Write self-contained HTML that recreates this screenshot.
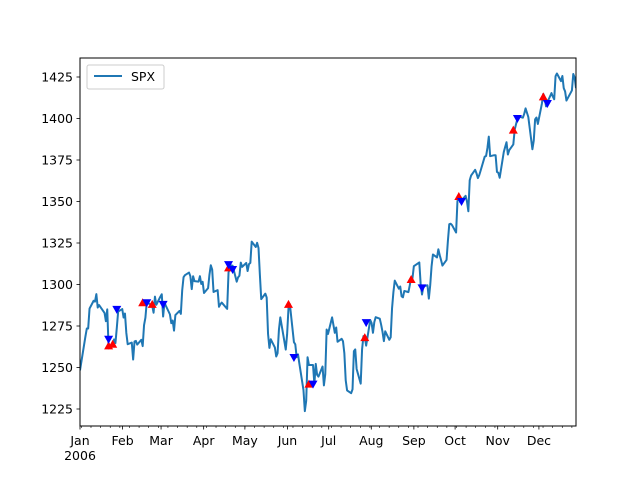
<!DOCTYPE html>
<html><head><meta charset="utf-8"><style>
body{margin:0;background:#fff;}
svg{display:block;font-family:"DejaVu Sans","Liberation Sans",sans-serif;}
</style></head><body>
<svg id="chart" width="640" height="480"></svg>
<script>
const seriesName = "SPX";
const startDate = "2005-12-30";
const startValue = [1248.3];
const janVals = [1268.8,1273.5,1273.5,1285.5,1290.2,1289.7,1294.2,1286.1,1287.6,1282.9,1277.9,1285.0,1261.5,1263.8,1266.9,1264.7,1273.8,1283.7,1285.2,1280.1];
const febVals = [1282.5,1270.8,1264.0,1265.0,1254.8,1265.7,1266.0,1263.8,1266.7,1262.9,1275.5,1280.0,1289.4,1287.2,1283.0,1292.7,1287.8,1292.7,1294.1];
const marVals = [1280.7,1289.1,1287.2,1282.0,1276.7,1278.3,1272.2,1281.6,1284.1,1282.3,1296.5,1304.4,1305.6,1307.2,1305.0,1297.2,1305.0,1302.0,1301.7,1305.0,1300.3,1301.6,1294.9];
const aprVals = [1297.8,1305.9,1311.6,1309.0,1295.5,1296.6,1286.6,1288.1,1289.1,1285.3,1307.3,1309.9,1311.5,1311.3,1301.7,1304.3,1305.3,1313.2,1310.6];
const mayVals = [1313.0,1308.1,1312.3,1313.0,1325.8,1322.6,1325.1,1322.0,1305.9,1291.2,1294.5,1292.1,1270.3,1261.8,1267.0,1262.1,1256.6,1258.6,1272.9,1280.2,1260.8,1270.1];
const junVals = [1285.7,1288.2,1265.3,1263.9,1256.2,1257.9,1252.3,1236.4,1223.7,1230.0,1256.2,1251.5,1251.5,1240.1,1252.2,1245.6,1244.5,1250.6,1239.2,1246.0,1272.9,1270.2];
const julVals = [1280.2,1270.9,1274.1,1265.5,1267.3,1265.8,1258.6,1242.3,1236.2,1234.5,1236.9,1259.8,1260.9,1249.1,1240.3,1260.9,1268.9,1268.4,1263.2,1278.6];
const augVals = [1276.7,1270.9,1277.4,1280.3,1279.4,1275.8,1271.5,1265.9,1271.8,1266.7,1268.2,1285.6,1295.4,1302.3,1297.5,1298.8,1292.9,1292.3,1296.1,1295.4,1299.5,1304.3,1303.8];
const sepVals = [1311.0,1313.3,1300.3,1294.0,1298.9,1299.5,1291.5,1299.5,1310.9,1318.1,1316.3,1321.2,1317.6,1314.6,1311.4,1314.8,1326.4,1336.3,1336.6,1335.8];
const octVals = [1331.3,1350.2,1353.2,1349.6,1350.7,1353.4,1349.9,1344.1,1362.8,1365.6,1369.1,1366.9,1364.1,1365.9,1368.6,1377.0,1377.4,1382.2,1389.1,1377.3,1377.9,1377.9];
const novVals = [1367.8,1367.3,1364.3,1379.8,1382.8,1385.7,1378.3,1380.9,1384.4,1393.2,1396.6,1399.8,1401.2,1400.5,1402.8,1406.1,1400.9,1381.5,1386.7,1399.5,1400.6];
const decVals = [1396.7,1409.1,1414.8,1412.9,1407.3,1409.8,1415.3,1413.2,1411.6,1425.5,1427.1,1422.5,1425.6,1418.3,1416.3,1410.8,1416.9,1426.8,1424.7,1418.3];
const holidays = ["2006-01-02","2006-01-16","2006-02-20","2006-04-14","2006-05-29","2006-07-04","2006-09-04","2006-11-23","2006-12-25"];
const upDates = ["2006-01-20","2006-01-23","2006-02-14","2006-02-21","2006-04-18","2006-06-01","2006-06-16","2006-07-27","2006-08-30","2006-10-04","2006-11-13","2006-12-05"];
const upVals = [1263,1264,1289,1288,1310,1288,1240,1268,1303,1353,1393,1413];
const downDates = ["2006-01-20","2006-01-26","2006-02-17","2006-03-01","2006-04-18","2006-04-21","2006-06-05","2006-06-19","2006-07-28","2006-09-07","2006-10-06","2006-11-16","2006-12-08"];
const downVals = [1267,1285,1289,1288,1312,1309,1256,1240,1277,1298,1350,1400,1409];
const yTicks = [1225,1250,1275,1300,1325,1350,1375,1400,1425];
const monthLabels = ["Jan","Feb","Mar","Apr","May","Jun","Jul","Aug","Sep","Oct","Nov","Dec"];

const NS="http://www.w3.org/2000/svg";
const svg=document.getElementById('chart');
const L=80,R=576,T=58,B=426;
const DAY=86400000;
const t0=Date.parse(startDate), t1=Date.parse("2006-12-29");
const x=d=>L+(Date.parse(d)-t0)/(t1-t0)*(R-L);
const xt=t=>L+(t-t0)/(t1-t0)*(R-L);
const tickT0=Date.UTC(2006,0,1), tickScale=1.374;
const xtick=t=>L+(t-tickT0)/DAY*tickScale;
const y=v=>409-(v-1225)*(409-77)/200;
function mk(tag,attrs,parent){const e=document.createElementNS(NS,tag);for(const k in attrs)e.setAttribute(k,attrs[k]);(parent||svg).appendChild(e);return e;}

const values=[].concat(startValue,janVals,febVals,marVals,aprVals,mayVals,junVals,julVals,augVals,sepVals,octVals,novVals,decVals);
const times=[t0];
let t=Date.parse("2006-01-03");
while(times.length<values.length){
  const d=new Date(t),wd=d.getUTCDay(),s=d.toISOString().slice(0,10);
  if(wd!==0&&wd!==6&&holidays.indexOf(s)<0)times.push(t);
  t+=DAY;
}

const clip=mk('clipPath',{id:'cp'});mk('rect',{x:L,y:T,width:R-L,height:B-T},clip);

let dStr='';
values.forEach((v,i)=>{dStr+=(i?'L':'M')+xt(times[i]).toFixed(2)+','+y(v).toFixed(2);});
const line=mk('path',{d:dStr,fill:'none',stroke:'#1f77b4','stroke-width':2,'stroke-linejoin':'round','clip-path':'url(#cp)'});



upDates.forEach((d,i)=>{
  const cx=x(d),cy=y(upVals[i]);
  const p=mk('polygon',{points:`${cx},${cy-4.5} ${cx-4.5},${cy+3.5} ${cx+4.5},${cy+3.5}`,fill:'#ff0000'});
  
  
});
downDates.forEach((d,i)=>{
  const cx=x(d),cy=y(downVals[i]);
  const p=mk('polygon',{points:`${cx},${cy+4.5} ${cx-4.5},${cy-3.5} ${cx+4.5},${cy-3.5}`,fill:'#0000ff'});
  
  
});

const frame=mk('rect',{x:L,y:T,width:R-L,height:B-T,fill:'none',stroke:'#000','stroke-width':1});



yTicks.forEach(v=>{
  const yy=y(v);
  mk('line',{x1:L-3.5,x2:L,y1:yy,y2:yy,stroke:'#000','stroke-width':0.8});
  const tx=mk('text',{x:L-7,y:yy+4.5,'text-anchor':'end','font-size':12.5,fill:'#000'});
  tx.textContent=v;
  
  
});

for(let w=Date.parse("2006-01-02");xtick(w)<=R;w+=7*DAY){
  const xx=xtick(w);mk('line',{x1:xx,x2:xx,y1:B,y2:B+2,stroke:'#000','stroke-width':0.6});
}
monthLabels.forEach((m,i)=>{
  const xx=xtick(Date.UTC(2006,i,1));
  mk('line',{x1:xx,x2:xx,y1:B,y2:B+3.5,stroke:'#000','stroke-width':0.8});
  const tx=mk('text',{x:xx,y:B+19,'text-anchor':'middle','font-size':12.5,fill:'#000'});
  tx.textContent=m;
  
  
});
const yr=mk('text',{x:L,y:B+34,'text-anchor':'middle','font-size':12.5,fill:'#000'});
yr.textContent='2006';



const lg=mk('g',{});


mk('rect',{x:87,y:65,width:77,height:24,rx:2,fill:'#fff',stroke:'#ccc','stroke-width':1},lg);
mk('line',{x1:94,x2:122,y1:76,y2:76,stroke:'#1f77b4','stroke-width':2},lg);
const lt=mk('text',{x:131,y:81,'font-size':12.5,fill:'#000'},lg);
lt.textContent=seriesName;
</script>
</body></html>
